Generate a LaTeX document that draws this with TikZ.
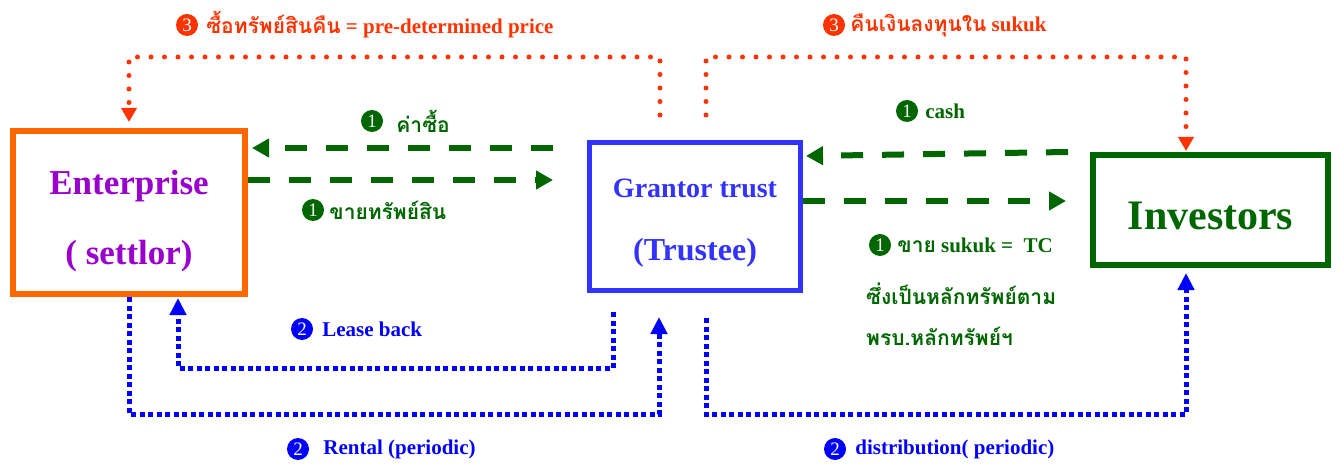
\documentclass[tikz,border=0pt]{standalone}
\usepackage{fontspec}
\setmainfont{Liberation Serif}
\newfontfamily\thaifont[Script=Thai]{Loma}
\usetikzlibrary{arrows.meta, positioning, calc}
\definecolor{entorange}{HTML}{FF6600}
\definecolor{entpurple}{HTML}{9900CC}
\definecolor{trustblue}{HTML}{3333FF}
\definecolor{invgreen}{HTML}{006600}
\definecolor{flowred}{HTML}{FF3300}
\definecolor{flowblue}{HTML}{0000FF}

% baja el texto sin cambiar el tamaño de la línea
\newcommand{\droptext}[2]{\raisebox{-#1}[\height][\depth]{#2}}

\tikzset{
  party/.style={draw, rectangle, align=center, inner sep=0pt},
  stepdot/.style={circle, fill=#1, text=white, inner sep=0pt, minimum size=22pt,
    font=\fontsize{19}{19}\selectfont},
  flowlabel/.style={font=\bfseries\fontsize{21}{24}\selectfont, inner sep=0pt},
  buysell/.style={invgreen, line width=6pt, dash pattern=on 22pt off 19pt,
    -{Triangle[length=17pt,width=18pt]}},
  redeem/.style={flowred, line width=5pt, line cap=round, dash pattern=on 0pt off 13.5pt,
    -{Triangle[length=14pt,width=15pt]}},
  periodic/.style={flowblue, line width=5pt, dash pattern=on 5pt off 3.5pt,
    -{Triangle[length=17pt,width=16pt]}},
}

\begin{document}
\begin{tikzpicture}[x=1pt, y=-1pt]
      \useasboundingbox (0,0) rectangle (1339,465);

      % Partes
      \node[party, draw=entorange, line width=6pt, minimum width=232pt, minimum height=163pt,
            text=entpurple, font=\bfseries\fontsize{35}{70}\selectfont] (ent) at (129,212.5)
            {\droptext{9pt}{Enterprise}\\\droptext{9pt}{( settlor)}};
      \node[party, draw=trustblue, line width=5pt, minimum width=211pt, minimum height=148pt,
            text=trustblue, font=\bfseries\fontsize{28}{62}\selectfont] (trust) at (695,216.5)
            {\droptext{6pt}{Grantor trust}\\{\fontsize{32}{62}\selectfont\droptext{7pt}{(Trustee)}}};
      \node[party, draw=invgreen, line width=6pt, minimum width=235pt, minimum height=110pt,
            text=invgreen, font=\bfseries\fontsize{42}{48}\selectfont] (inv) at (1210.5,210)
            {\droptext{6pt}{Investors}};

      % Paso 1: compra / venta
      \draw[buysell, shorten >=4pt] ($(trust.west)+(-34,-68.5)$) -- (ent.east |- 0,148);
      \draw[buysell] (ent.east |- 0,180) -- ($(trust.west)+(-34,-36.5)$);
      \draw[buysell, shorten >=3pt] ($(inv.west)+(-22,-58)$) -- ($(trust.east)+(0,-60.5)$);
      \draw[buysell] ($(trust.east)+(0,-15.5)$) -- ($(inv.west)+(-24,-9)$);

      \node[stepdot=invgreen] (d1a) at (372,121) {1};
      \node[flowlabel, text=invgreen, right=13pt of d1a] (l1a) {\thaifont ค่าซื้อ};
      \node[stepdot=invgreen] (d1b) at (313,210) {1};
      \node[flowlabel, text=invgreen, right=5pt of d1b] (l1b) {\thaifont ขายทรัพย์สิน};
      \node[stepdot=invgreen] (d1c) at (907,111) {1};
      \node[flowlabel, text=invgreen, right=7pt of d1c] (l1c) {cash};
      \node[stepdot=invgreen] (d1d) at (880,245) {1};
      \node[flowlabel, text=invgreen, right=6pt of d1d] (l1d) {{\thaifont ขาย} sukuk =~ TC};
      \node[flowlabel, text=invgreen, align=left, anchor=north west,
            font=\bfseries\thaifont\fontsize{21}{41}\selectfont] (l1e) at (866,283)
            {ซึ่งเป็นหลักทรัพย์ตาม\\พรบ.หลักทรัพย์ฯ};

      % Paso 2: arrendamiento y pagos periódicos
      \draw[periodic, shorten >=1pt] ($(trust.south)+(-82,19)$) -- ++(0,56) -| ($(ent.south)+(49,0)$);
      \draw[periodic, shorten >=24pt] (ent.south) -- ++(0,117) -| ($(trust.south)+(-36,0)$);
      \draw[periodic, shorten >=5pt] ($(trust.south)+(11,25)$) -- ++(0,96) -| ($(inv.south)+(-24.5,0)$);

      \node[stepdot=flowblue] (d2a) at (302,329) {2};
      \node[flowlabel, text=flowblue, right=9pt of d2a] (l2a) {Lease back};
      \node[stepdot=flowblue] (d2b) at (298,449) {2};
      \node[flowlabel, text=flowblue, right=14pt of d2b] (l2b) {Rental (periodic)};
      \node[stepdot=flowblue] (d2c) at (835,449) {2};
      \node[flowlabel, text=flowblue, right=9pt of d2c] (l2c) {distribution( periodic)};

      % Paso 3: recompra / redención
      \draw[redeem, shorten >=6pt] ($(trust.north)+(-35,-25)$) -- ++(0,-58) -| (ent.north);
      \draw[redeem, shorten >=1pt] ($(trust.north)+(11,-25)$) -- ++(0,-58) -| ($(inv.north)+(-24.5,0)$);

      \node[stepdot=flowred] (d3a) at (187,25) {3};
      \node[flowlabel, text=flowred, right=8pt of d3a] (l3a) {{\thaifont ซื้อทรัพย์สินคืน} = pre-determined price};
      \node[stepdot=flowred] (d3b) at (834,25) {3};
      \node[flowlabel, text=flowred, right=5pt of d3b] (l3b) {{\thaifont คืนเงินลงทุนใน} sukuk};
    \end{tikzpicture}
\end{document}
